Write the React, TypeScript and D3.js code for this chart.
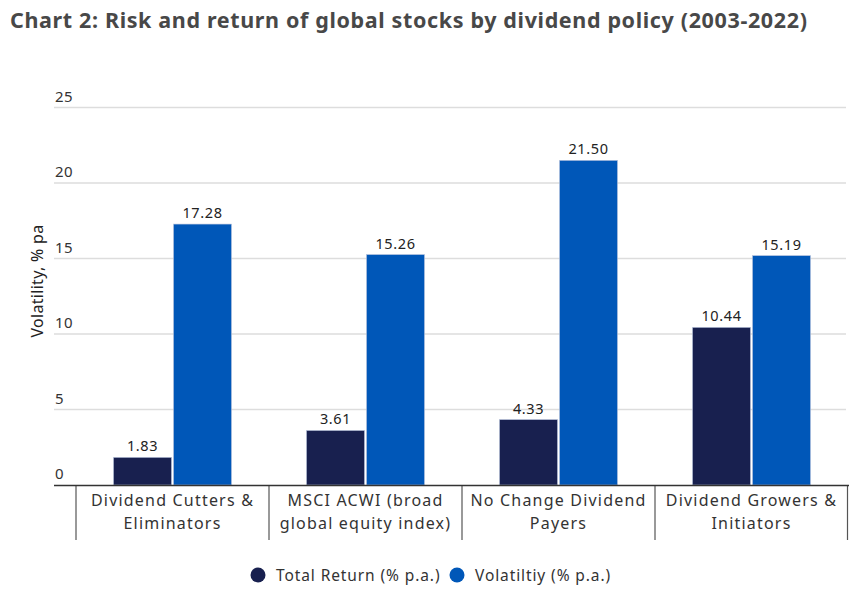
import React from "react";
import * as d3 from "d3";

const categories = [
  ["Dividend Cutters &", "Eliminators"],
  ["MSCI ACWI (broad", "global equity index)"],
  ["No Change Dividend", "Payers"],
  ["Dividend Growers &", "Initiators"],
];
const totalReturn = [1.83, 3.61, 4.33, 10.44];
const volatility = [17.28, 15.26, 21.5, 15.19];
const seriesNames = ["Total Return (% p.a.)", "Volatiltiy (% p.a.)"];
const yTicks = [0, 5, 10, 15, 20, 25];

const colors = ["#18204f", "#0057b8"];
const font = "'Noto Sans', 'Open Sans', sans-serif";

export default function App() {
  const W = 855, H = 591;
  const x = d3.scaleBand<number>().domain([0, 1, 2, 3]).range([76, 848]).padding(0);
  const y = d3.scaleLinear().domain([0, 25]).range([485, 107.5]);
  const barW = 58, gap = 2;
  const series = [totalReturn, volatility];

  return (
    <svg width={W} height={H} style={{ position: "absolute", left: 0, top: 0 }}>
      <rect width={W} height={H} fill="#fff" />
      <text x={10} y={28} fontFamily={font} fontWeight={700} fontSize={21.5} fill="#484848" textLength={797}>
        Chart 2: Risk and return of global stocks by dividend policy (2003-2022)
      </text>
      {yTicks.map((t) => (
        <g key={t}>
          {t > 0 && <line x1={54} x2={846} y1={y(t)} y2={y(t)} stroke="#ddd" strokeWidth={1.3} />}
          <text x={55} y={y(t) - 6} fontFamily={font} fontSize={15} letterSpacing={0.5} fill="#333">{t}</text>
        </g>
      ))}
      <text transform={`translate(43,${281}) rotate(-90)`} textAnchor="middle" fontFamily={font} fontSize={16} letterSpacing={0.3} fill="#222">
        Volatility, % pa
      </text>
      {categories.map((c, i) => {
        const cx = x(i)! + x.bandwidth() / 2;
        return (
          <g key={i}>
            {series.map((s, k) => {
              const bx = k === 0 ? cx - gap / 2 - barW : cx + gap / 2;
              return (
                <g key={k}>
                  <rect x={bx} y={y(s[i])} width={barW} height={y(0) - y(s[i])} fill={colors[k]} stroke="#b8c4dc" strokeWidth={0.6} />
                  <text x={bx + barW / 2} y={y(s[i]) - 6} textAnchor="middle" fontFamily={font} fontSize={14.5} letterSpacing={0.6} fill="#222">
                    {s[i].toFixed(2)}
                  </text>
                </g>
              );
            })}
            <text x={cx} y={506} textAnchor="middle" fontFamily={font} fontSize={16} letterSpacing={1.2} fill="#333">{c[0]}</text>
            <text x={cx} y={529} textAnchor="middle" fontFamily={font} fontSize={16} letterSpacing={1.2} fill="#333">{c[1]}</text>
          </g>
        );
      })}
      {[0, 1, 2, 3, 4].map((i) => {
        const xx = i < 4 ? x(i)! : 847.5;
        return <line key={i} x1={xx} x2={xx} y1={485} y2={540} stroke="#555" strokeWidth={1.2} />;
      })}
      <line x1={54} x2={849} y1={485.5} y2={485.5} stroke="#333" strokeWidth={1.6} />
      {seriesNames.map((n, k) => {
        const lx = k === 0 ? 258 : 457;
        return (
          <g key={k}>
            <circle cx={lx} cy={575} r={7.5} fill={colors[k]} />
            <text x={lx + 18} y={580.5} fontFamily={font} fontSize={15.5} letterSpacing={0.9} fill="#333">{n}</text>
          </g>
        );
      })}
    </svg>
  );
}
